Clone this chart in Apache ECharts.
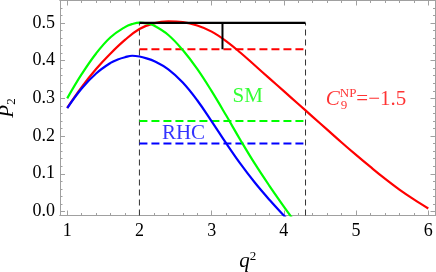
<!DOCTYPE html>
<html><head><meta charset="utf-8">
<script src="https://cdn.jsdelivr.net/npm/echarts@6/dist/echarts.min.js"></script>
<style>html,body{margin:0;padding:0;background:#fff}#c{width:436px;height:272px}</style>
</head><body><div id="c"></div>
<script>
// ---- data ----
const rhcQ = [1.0,1.2,1.4,1.6,1.7,1.8,1.9,2.0,2.1,2.2,2.4,2.6,2.8,3.0,3.2,3.4,3.6,3.8,4.0,4.2];
const rhcP = [0.274,0.326,0.366,0.394,0.403,0.409,0.413,0.411,0.406,0.399,0.377,0.342,0.295,0.239,0.181,0.126,0.076,0.031,-0.011,-0.052];
const smQ = [1.0,1.2,1.4,1.6,1.8,1.9,2.0,2.1,2.2,2.4,2.6,2.8,3.0,3.2,3.4,3.6,3.8,4.0,4.2];
const smP = [0.300,0.364,0.419,0.462,0.489,0.497,0.501,0.499,0.493,0.468,0.428,0.378,0.319,0.255,0.189,0.126,0.068,0.013,-0.040];
const npQ = [1.0,1.2,1.4,1.6,1.8,2.0,2.2,2.4,2.6,2.8,3.0,3.2,3.4,3.6,3.8,4.0,4.2,4.4,4.6,4.8,5.0,5.2,5.4,5.6,5.8,6.0];
const npP = [0.275,0.330,0.378,0.419,0.455,0.484,0.499,0.504,0.502,0.493,0.477,0.452,0.421,0.387,0.353,0.319,0.285,0.251,0.217,0.183,0.150,0.118,0.087,0.058,0.032,0.008];
const binEdges = [2.0, 4.3];
const binCenter = 3.15;
const smBin = 0.24;
const rhcBin = 0.18;
const npBin = 0.43;
const expValue = 0.50;
const expLow = 0.43;
const xMajor = [1,2,3,4,5,6];
const yMajor = [0.0,0.1,0.2,0.3,0.4,0.5];
const xMin = 0.9, xMax = 6.1, yMin = -0.0107, yMax = 0.5595;
const labelSM = {text:'SM', q:3.5, p:0.305};
const labelRHC = {text:'RHC', q:2.61, p:0.208};
const labelNP = {q:4.58, p:0.297};

const xMinor = [];
for (let i = 5; i <= 30; i++) { const v = +(i*0.2).toFixed(2); if (Math.abs(v-Math.round(v))>1e-6) xMinor.push(v); }
const yMinor = [];
for (let i = 1; i <= 27; i++) { const v = +(i*0.02).toFixed(2); if (i % 5 !== 0) yMinor.push(v); }

const RED='#ff0000', GREEN='#00ff00', BLUE='#0000ff';
const FRAME='#a0a0a0';
const SERIF='"Liberation Serif","Times New Roman",serif';

function zip(a,b){return a.map((v,i)=>[v,b[i]]);}

function xAx(pos, ticks, len, labels){
  return {type:'value', min:xMin, max:xMax, position:pos, gridIndex:0,
    axisLine:{show:true, onZero:false, lineStyle:{color:FRAME,width:1}},
    axisTick:{show:true, inside:true, length:len, customValues:ticks, lineStyle:{color:FRAME,width:1}},
    axisLabel:{show:labels, customValues:xMajor, margin:7, color:'#000', fontFamily:SERIF, fontSize:18,
      formatter:v=>String(v)},
    splitLine:{show:false}};
}
function yAx(pos, ticks, len, labels){
  return {type:'value', min:yMin, max:yMax, position:pos, gridIndex:0,
    axisLine:{show:true, onZero:false, lineStyle:{color:FRAME,width:1}},
    axisTick:{show:true, inside:true, length:len, customValues:ticks, lineStyle:{color:FRAME,width:1}},
    axisLabel:{show:labels, customValues:yMajor, margin:5, color:'#000', fontFamily:SERIF, fontSize:18,
      formatter:v=>v.toFixed(1)},
    splitLine:{show:false}};
}

const xAxes = [xAx('bottom', xMajor, 5, true), xAx('bottom', xMinor, 2.5, false),
               xAx('top', xMajor, 5, false), xAx('top', xMinor, 2.5, false)];
xAxes[0].name = '{q|q}{s|2}';
xAxes[0].nameLocation = 'middle';
xAxes[0].nameGap = 35;
xAxes[0].nameTextStyle = {rich:{q:{fontFamily:SERIF,fontStyle:'italic',fontSize:21,color:'#000'},
                                 s:{fontFamily:SERIF,fontSize:13,color:'#000',verticalAlign:'top'}}};
const yAxes = [yAx('left', yMajor, 5, true), yAx('left', yMinor, 2.5, false),
               yAx('right', yMajor, 5, false), yAx('right', yMinor, 2.5, false)];
yAxes[0].name = '{p|P}{s|2}';
yAxes[0].nameLocation = 'middle';
yAxes[0].nameGap = 42;
yAxes[0].nameTextStyle = {rich:{p:{fontFamily:SERIF,fontStyle:'italic',fontSize:21,color:'#000'},
                                 s:{fontFamily:SERIF,fontSize:13,color:'#000',verticalAlign:'bottom'}}};

function line(data, color, width, type){
  return {type:'line', data, xAxisIndex:0, yAxisIndex:0, symbol:'none', silent:true,
    lineStyle:{color, width, type: type||'solid'}, clip:true, animation:false};
}

const series = [
  line([[binEdges[0],yMin],[binEdges[0],expValue]], '#333', 1, [6,4]),
  line([[binEdges[1],yMin],[binEdges[1],expValue]], '#333', 1, [6,4]),
  line(zip(binEdges,[npBin,npBin]), RED, 2, [8,4]),
  line(zip(binEdges,[smBin,smBin]), GREEN, 2, [8,4]),
  line(zip(binEdges,[rhcBin,rhcBin]), BLUE, 2, [8,4]),
  Object.assign(line(zip(npQ,npP), RED, 2.2), {smooth:0.4}),
  Object.assign(line(zip(smQ,smP), GREEN, 2.2), {smooth:0.4}),
  Object.assign(line(zip(rhcQ,rhcP), BLUE, 2.2), {smooth:0.4}),
  line(zip(binEdges,[expValue,expValue]), '#000', 2.3),
  line([[binCenter,expValue],[binCenter,expLow]], '#000', 2),
  {type:'scatter', symbolSize:0, silent:true, animation:false, xAxisIndex:0, yAxisIndex:0,
   data:[
    {value:[labelSM.q,labelSM.p], label:{show:true, position:'inside', formatter:labelSM.text, color:GREEN, fontFamily:SERIF, fontSize:21}},
    {value:[labelRHC.q,labelRHC.p], label:{show:true, position:'inside', formatter:labelRHC.text, color:BLUE, fontFamily:SERIF, fontSize:21}},
    {value:[labelNP.q,labelNP.p], label:{show:true, position:'inside', align:'left', verticalAlign:'middle',
      formatter:'{c|C}{sup|NP}{eq|=\u22121.5}',
      rich:{c:{fontFamily:SERIF,fontStyle:'italic',fontSize:21,color:RED,lineHeight:24},
            sup:{fontFamily:SERIF,fontSize:13,color:RED,verticalAlign:'top',lineHeight:13},
            eq:{fontFamily:SERIF,fontSize:21,color:RED,lineHeight:24}}}},
    {value:[labelNP.q,labelNP.p], label:{show:true, position:'inside', align:'left', verticalAlign:'middle',
      offset:[15,6], formatter:'9', color:RED, fontFamily:SERIF, fontSize:13}}
   ]}
];

const chart = echarts.init(document.getElementById('c'), null, {renderer:'canvas'});
chart.setOption({
  animation:false,
  grid:{left:60, right:0.5, top:0.5, bottom:56.5, containLabel:false, outerBoundsMode:'none'},
  xAxis:xAxes, yAxis:yAxes, series
});
</script></body></html>
